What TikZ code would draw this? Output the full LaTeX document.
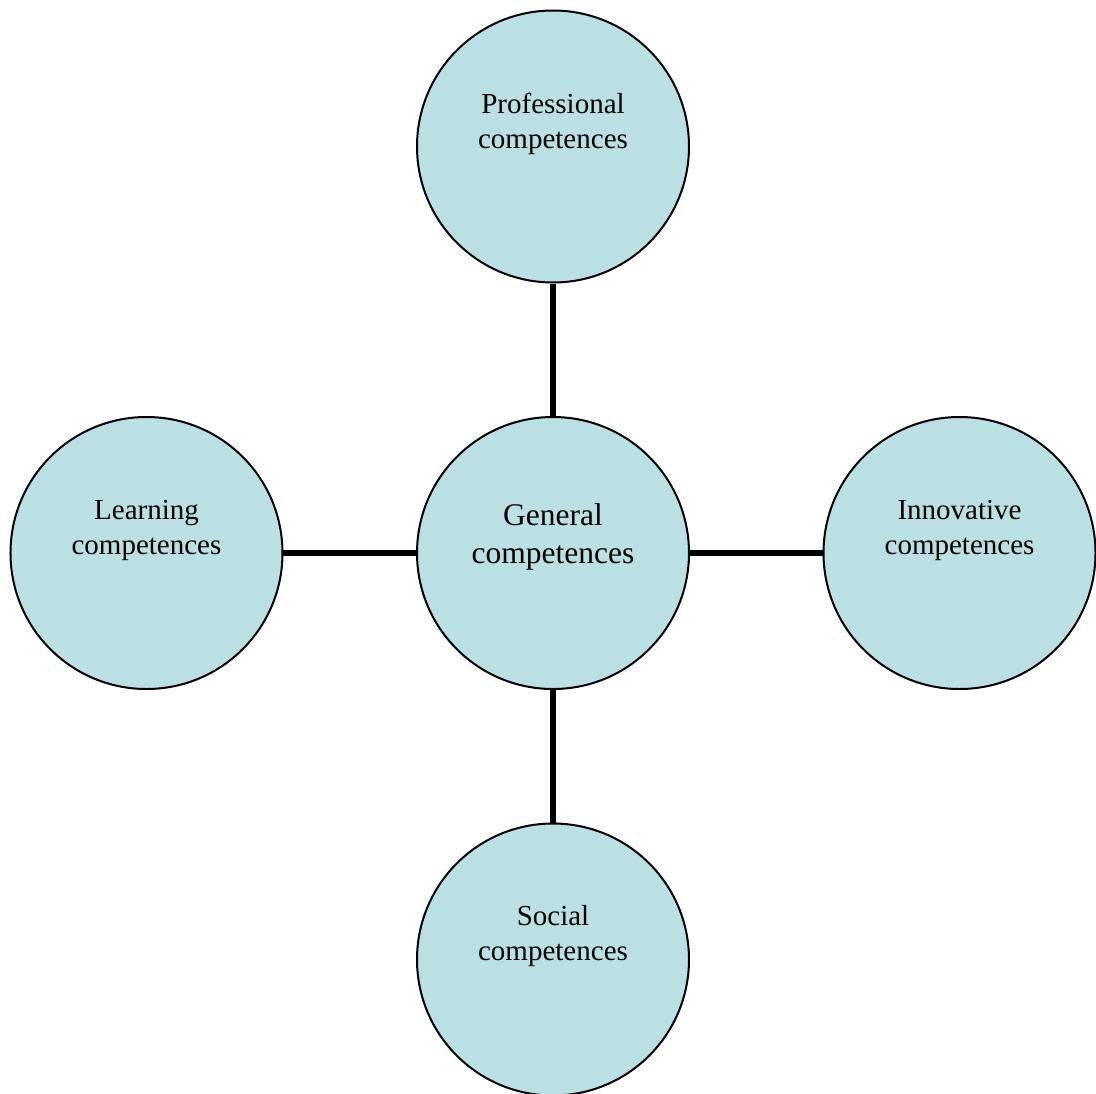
\documentclass[tikz,border=0pt]{standalone}
\usepackage{fontspec}
\setmainfont{Liberation Serif}
\usetikzlibrary{positioning}
\definecolor{compfill}{RGB}{187,224,227}

\begin{document}
\begin{tikzpicture}[node distance=203.25pt,on grid,
 comp/.style={circle,draw,line width=1pt,fill=compfill,minimum size=136pt,inner sep=0pt},
 txt/.style={align=center,font=\fontsize{14.5}{17.5}\selectfont,yshift=11.5pt},
 gtxt/.style={align=center,font=\fontsize{15.75}{18.7}\selectfont,yshift=8pt},
 link/.style={line width=2.8pt}]
\useasboundingbox (-276.5pt,-270pt) rectangle (271.5pt,276.5pt);
\node[comp,label={[gtxt]center:General\\competences}] (gen) {};
\node[comp,label={[txt]center:Professional\\competences}] (pro) [above=of gen] {};
\node[comp,label={[txt]center:Learning\\competences}] (lea) [left=of gen] {};
\node[comp,label={[txt]center:Innovative\\competences}] (inn) [right=of gen] {};
\node[comp,label={[txt]center:Social\\competences}] (soc) [below=of gen] {};
\draw[link] (gen) -- (pro) (gen) -- (lea) (gen) -- (inn) (gen) -- (soc);
\end{tikzpicture}
\end{document}
